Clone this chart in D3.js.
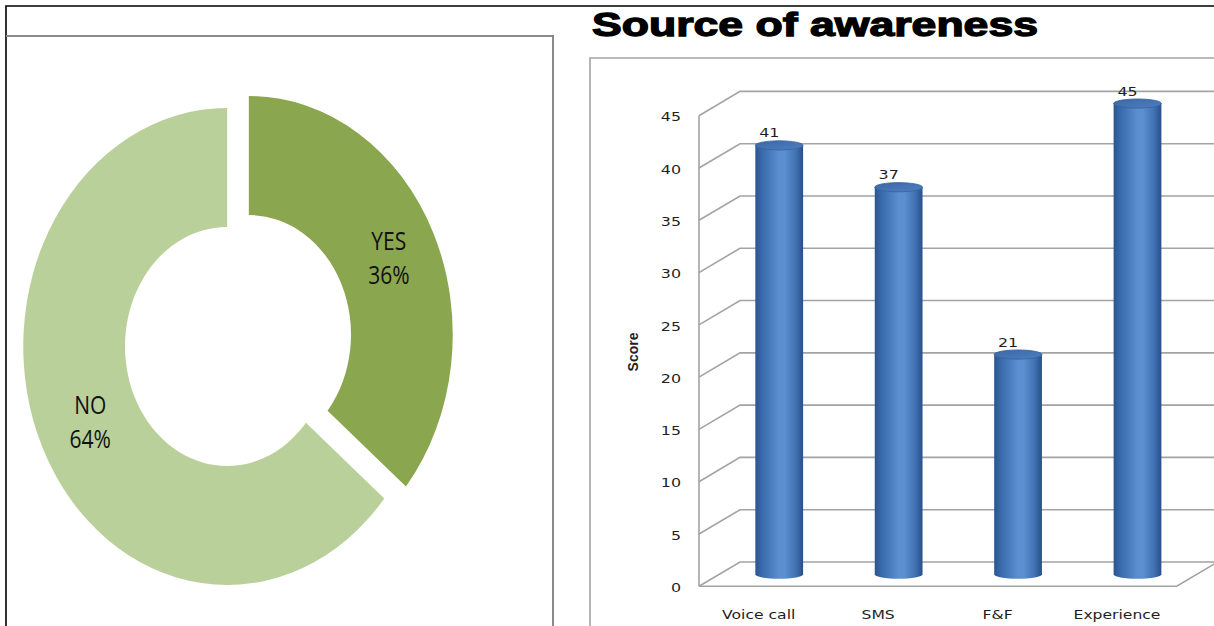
<!DOCTYPE html>
<html>
<head>
<meta charset="utf-8">
<script src="https://cdn.jsdelivr.net/npm/d3@7"></script>
<style>
  html, body { margin: 0; padding: 0; background: #fff; }
  svg { display: block; }
</style>
</head>
<body>
<svg id="chart" width="1214" height="626"></svg>
<script>
// Awareness answers (donut)
const answerLabels = ["YES", "NO"];
const answerShares = [36, 64];

// Source of awareness (3D cylinder columns)
const sources = ["Voice call", "SMS", "F&F", "Experience"];
const scores = [41, 37, 21, 45];
const scoreTicks = [0, 5, 10, 15, 20, 25, 30, 35, 40, 45];

const svg = d3.select("#chart");
const defs = svg.append("defs");

// ---- frames ----
svg.append("path").attr("d", "M6,626 V6 H1214")
  .attr("fill", "none").attr("stroke", "#000").attr("stroke-width", 1.6);
svg.append("path").attr("d", "M6,36 H553 V626")
  .attr("fill", "none").attr("stroke", "#8a8a8a").attr("stroke-width", 2);
svg.append("path").attr("d", "M590,626 V58 H1214")
  .attr("fill", "none").attr("stroke", "#a3a3a3").attr("stroke-width", 1.6);

// ---- donut ----
const donutColors = ["#8aa64f", "#bad09a"];
const cx = 238, cy = 340.5, outerR = 238.5, innerR = 119.5, squeeze = 0.855, pull = 14;
const pie = d3.pie().sort(null).value(d => d)(answerShares);
const arc = d3.arc().innerRadius(innerR).outerRadius(outerR);
const donut = svg.append("g").attr("transform", `translate(${cx},${cy}) scale(${squeeze},1)`);

pie.forEach((p, i) => {
  const mid = (p.startAngle + p.endAngle) / 2;
  const dx = Math.sin(mid) * pull, dy = -Math.cos(mid) * pull;
  donut.append("path")
    .attr("d", arc(p))
    .attr("transform", `translate(${dx},${dy})`)
    .attr("fill", donutColors[i]);

  const [lx, ly] = arc.centroid(p);
  const px = cx + (lx + dx) * squeeze, py = cy + ly + dy;
  const t = svg.append("text")
    .attr("transform", `translate(${px + 1.5},${py}) scale(0.84,1)`)
    .attr("text-anchor", "middle")
    .attr("font-family", "'Open Sans', sans-serif")
    .attr("font-size", 25)
    .attr("fill", "#111");
  t.append("tspan").attr("x", 0).attr("y", -8.5).text(answerLabels[i]);
  t.append("tspan").attr("x", 0).attr("y", 25.5).text(answerShares[i] + "%");
});

// ---- title ----
svg.append("text")
  .attr("x", 592).attr("y", 36)
  .attr("font-family", "'Liberation Sans', Arial, sans-serif")
  .attr("font-weight", "bold")
  .attr("font-size", 33)
  .attr("textLength", 446)
  .attr("lengthAdjust", "spacingAndGlyphs")
  .attr("fill", "#000").attr("stroke", "#000").attr("stroke-width", 1.3)
  .text("Source of awareness");

// ---- 3D column chart ----
const depthX = 41, depthY = -24.3;
const y = d3.scaleLinear().domain([0, 45]).range([586.3, 115.7]);
const x = d3.scaleBand().domain(sources).range([699, 1176.7]);
const gridColor = "#a3a3a3";
const grid = svg.append("g").attr("fill", "none").attr("stroke", gridColor).attr("stroke-width", 1.6);

scoreTicks.forEach(t => {
  const fy = y(t);
  grid.append("path").attr("d", `M${699},${fy} L${699 + depthX},${fy + depthY} H1230`);
});
// floor and front axis
const y0 = y(0);
grid.append("path").attr("d",
  `M699,${y0} H${1176.7} L${1176.7 + depthX},${y0 + depthY}`);
grid.append("path").attr("d", `M699,${y0} V${y(45)}`);

// tick labels
const tickText = svg.append("g")
  .attr("font-family", "'DejaVu Sans', Verdana, sans-serif")
  .attr("font-size", 13).attr("fill", "#1e1e1e");
scoreTicks.forEach(t => {
  tickText.append("text")
    .attr("transform", `translate(681,${y(t) + 1}) scale(1.22,1)`)
    .attr("text-anchor", "end").attr("dy", "0.36em")
    .text(t);
});

// category labels
sources.forEach(s => {
  tickText.append("text")
    .attr("transform", `translate(${x(s) + x.bandwidth() / 2},619) scale(1.2,1)`)
    .attr("text-anchor", "middle")
    .text(s);
});

// axis title
svg.append("text")
  .attr("transform", "translate(638,352) rotate(-90)")
  .attr("text-anchor", "middle")
  .attr("font-family", "'Liberation Sans', Arial, sans-serif")
  .attr("font-weight", "bold").attr("font-size", 14).attr("fill", "#222")
  .text("Score");

// cylinder shading
const body = defs.append("linearGradient").attr("id", "cylBody").attr("x1", 0).attr("x2", 1).attr("y1", 0).attr("y2", 0);
[[0, "#2a558f"], [0.12, "#3767a8"], [0.5, "#5a8fd1"], [0.62, "#5b8fd0"], [0.85, "#4171b2"], [1, "#27508a"]]
  .forEach(([o, c]) => body.append("stop").attr("offset", o).attr("stop-color", c));
const cap = defs.append("linearGradient").attr("id", "cylTop").attr("x1", 0).attr("x2", 1).attr("y1", 0).attr("y2", 1);
[[0, "#3a67a6"], [1, "#4f7fc0"]]
  .forEach(([o, c]) => cap.append("stop").attr("offset", o).attr("stop-color", c));

const barW = x.bandwidth() * 0.4, ry = 4.6;
const midX = depthX / 2, midY = depthY / 2;
const bars = svg.append("g");
sources.forEach((s, i) => {
  const c = x(s) + x.bandwidth() / 2 + midX;
  const l = c - barW / 2, r = c + barW / 2;
  const base = y(0) + midY, top = y(scores[i]) + midY;
  bars.append("path")
    .attr("d", `M${l},${top} V${base} A${barW / 2},${ry} 0 0 0 ${r},${base} V${top} Z`)
    .attr("fill", "url(#cylBody)");
  bars.append("ellipse")
    .attr("cx", c).attr("cy", top).attr("rx", barW / 2).attr("ry", ry)
    .attr("fill", "url(#cylTop)").attr("stroke", "#35619f").attr("stroke-width", 0.8);
  tickText.append("text")
    .attr("transform", `translate(${c - 10},${top - 8}) scale(1.22,1)`)
    .attr("text-anchor", "middle")
    .text(scores[i]);
});
</script>
</body>
</html>
